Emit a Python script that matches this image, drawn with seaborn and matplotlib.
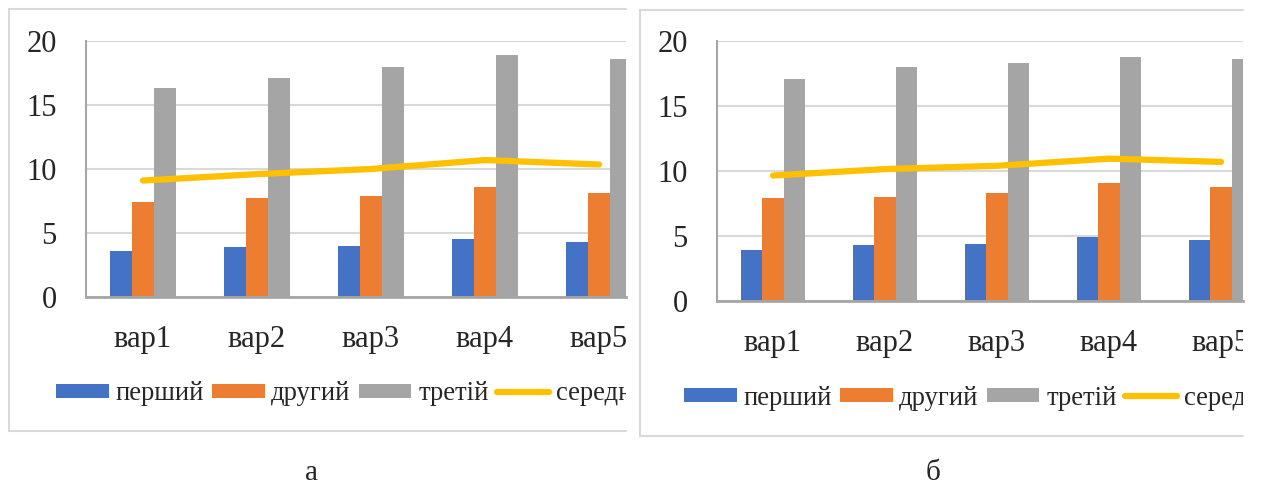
import pandas as pd
import matplotlib.pyplot as plt
import seaborn as sns
from matplotlib.lines import Line2D
from matplotlib.patches import Patch
from matplotlib.transforms import Bbox, TransformedBbox

# дані
categories = ['вар1', 'вар2', 'вар3', 'вар4', 'вар5']
series_names = ['перший', 'другий', 'третій']
line_name = 'середній'

a_first = [3.6, 3.9, 4.0, 4.5, 4.3]
a_second = [7.4, 7.7, 7.9, 8.6, 8.1]
a_third = [16.3, 17.1, 18.0, 18.9, 18.6]
a_mean = [9.1, 9.6, 10.0, 10.7, 10.35]

b_first = [3.9, 4.3, 4.4, 4.9, 4.7]
b_second = [7.9, 8.0, 8.3, 9.1, 8.8]
b_third = [17.1, 18.0, 18.3, 18.8, 18.6]
b_mean = [9.65, 10.15, 10.4, 10.95, 10.7]

colors = ['#4472C4', '#ED7D31', '#A5A5A5']
line_color = '#FFC000'
W, H = 1261, 486

sns.set_style('white')
plt.rcParams['font.family'] = ['Liberation Serif', 'DejaVu Serif']

fig = plt.figure(figsize=(W / 100, H / 100), dpi=100)


def fx(px):
    return px / W


def fy(py):
    return 1 - py / H


def long_df(first, second, third):
    rows = []
    for name, vals in zip(series_names, [first, second, third]):
        for c, v in zip(categories, vals):
            rows.append({'cat': c, 'series': name, 'value': v})
    return pd.DataFrame(rows)


def draw_panel(left, right, bottom, top, cat_w, first, second, third, mean,
               frame, legend_x, legend_y, letter, letter_x):
    ax = fig.add_axes([fx(left), fy(bottom), fx(right) - fx(left), fy(top) - fy(bottom)])
    df = long_df(first, second, third)
    sns.barplot(data=df, x='cat', y='value', hue='series', order=categories,
                hue_order=series_names, palette=colors, saturation=1,
                width=0.58, linewidth=0, legend=False, ax=ax)
    sns.lineplot(x=categories, y=mean, color=line_color, linewidth=4.5,
                 solid_capstyle='round', sort=False, ax=ax)

    ax.set_ylim(0, 20)
    ax.set_yticks([0, 5, 10, 15, 20])
    ax.set_xlim(-0.5, -0.5 + (right - left) / cat_w)
    ax.set_xlabel('')
    ax.set_ylabel('')
    ax.yaxis.grid(True, color='#D9D9D9', linewidth=1.5)
    ax.set_axisbelow(True)
    for s in ['top', 'right']:
        ax.spines[s].set_visible(False)
    ax.spines['left'].set_color('#A6A6A6')
    ax.spines['left'].set_linewidth(1.5)
    ax.spines['bottom'].set_color('#A6A6A6')
    ax.spines['bottom'].set_linewidth(2)
    ax.tick_params(axis='y', length=0, pad=21, labelsize=22)
    ax.tick_params(axis='x', length=0, pad=20.5, labelsize=22)

    # рамка діаграми, обрізана праворуч
    fl, ft, fb, fr = frame
    for xs, ys in [([fl, fl], [ft, fb]), ([fl, fr], [ft, ft]), ([fl, fr], [fb, fb])]:
        fig.add_artist(Line2D([fx(x) for x in xs], [fy(y) for y in ys],
                              transform=fig.transFigure, color='#D9D9D9', linewidth=1.5))

    clip = TransformedBbox(Bbox.from_extents(fx(fl), fy(fb), fx(fr), fy(ft)), fig.transFigure)
    for lbl in ax.get_xticklabels():
        lbl.set_clip_box(clip)
        lbl.set_clip_on(True)

    handles = [Patch(facecolor=c, edgecolor='none') for c in colors]
    handles.append(Line2D([0], [0], color=line_color, linewidth=4.5, solid_capstyle='round'))
    leg = fig.legend(handles, series_names + [line_name], loc='center left',
                     bbox_to_anchor=(fx(legend_x), fy(legend_y)), ncol=4,
                     frameon=False, fontsize=19.2, borderpad=0, borderaxespad=0,
                     handlelength=1.98, handleheight=0.45, handletextpad=0.25,
                     columnspacing=0.3)
    for t in leg.get_texts():
        t.set_clip_box(clip)
        t.set_clip_on(True)

    fig.text(fx(letter_x), fy(485.5), letter, ha='center', va='bottom', fontsize=21)
    return ax


draw_panel(86, 626, 297, 41, 114, a_first, a_second, a_third, a_mean,
           (9, 9.5, 431, 626), 56, 394, 'а', 311)
draw_panel(717, 1243, 301, 41, 112, b_first, b_second, b_third, b_mean,
           (640, 10, 436, 1243), 684, 398, 'б', 933)

fig.savefig('out.png', dpi=100)
